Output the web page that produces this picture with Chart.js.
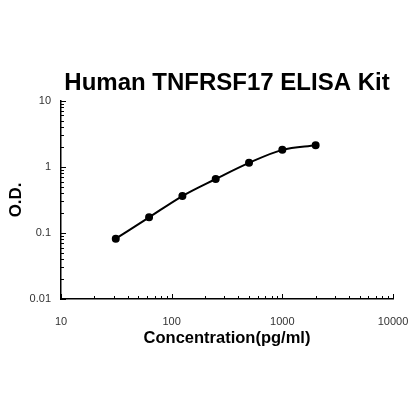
<!DOCTYPE html>
<html>
<head>
<meta charset="utf-8">
<script src="https://cdn.jsdelivr.net/npm/chart.js@4/dist/chart.umd.min.js"></script>
<style>
  html, body { margin: 0; padding: 0; background: #fff; }
  #wrap { width: 420px; height: 420px; }
</style>
</head>
<body>
<div id="wrap"><canvas id="elisaChart" width="420" height="420"></canvas></div>
<script>
// Curva estándar ELISA (log-log)
const concentrations = [31.25, 62.5, 125, 250, 500, 1000, 2000];
const odValues = [0.082, 0.172, 0.362, 0.655, 1.15, 1.81, 2.13];
const xTickValues = [10, 100, 1000, 10000];
const yTickValues = [0.01, 0.1, 1, 10];

// ticks menores hacia adentro, como en el original
const innerTicks = {
  id: "innerTicks",
  afterDraw(chart) {
    const ctx = chart.ctx;
    const xs = chart.scales.x, ys = chart.scales.y;
    ctx.save();
    ctx.strokeStyle = "#000";
    ctx.lineWidth = 1;
    for (let e = Math.log10(xs.min); e < Math.log10(xs.max) + 0.5; e++) {
      for (let k = 1; k <= 9; k++) {
        const v = k * Math.pow(10, e);
        if (v < xs.min || v > xs.max) continue;
        const px = Math.round(xs.getPixelForValue(v)) + 0.5;
        const len = k === 1 ? 5 : 3;
        ctx.beginPath();
        ctx.moveTo(px, xs.top);
        ctx.lineTo(px, xs.top - len);
        ctx.stroke();
      }
    }
    for (let e = Math.round(Math.log10(ys.min)); e < Math.log10(ys.max) + 0.5; e++) {
      for (let k = 1; k <= 9; k++) {
        const v = k * Math.pow(10, e);
        if (v < ys.min * 0.999 || v > ys.max * 1.001) continue;
        const py = Math.round(ys.getPixelForValue(v)) + 0.5;
        const len = k === 1 ? 5 : 3;
        ctx.beginPath();
        ctx.moveTo(ys.right, py);
        ctx.lineTo(ys.right + len, py);
        ctx.stroke();
      }
    }
    ctx.restore();
  }
};

const ctx = document.getElementById("elisaChart").getContext("2d");
const elisaChart = new Chart(ctx, {
  type: "line",
  data: {
    labels: concentrations,
    datasets: [{
      data: concentrations.map((c, i) => ({ x: c, y: odValues[i] })),
      borderColor: "#000",
      backgroundColor: "#000",
      borderWidth: 2,
      pointRadius: 3,
      pointBackgroundColor: "#000",
      cubicInterpolationMode: "monotone",
      fill: false
    }]
  },
  options: {
    responsive: false,
    animation: false,
    devicePixelRatio: 1,
    layout: { padding: { left: 0, right: 27, top: 0, bottom: 0 } },
    plugins: {
      legend: { display: false },
      tooltip: { enabled: false },
      title: {
        display: true,
        text: "Human TNFRSF17 ELISA Kit",
        color: "#000",
        fullSize: false,
        font: { family: "Liberation Sans, Arial, sans-serif", size: 24, weight: "bold" },
        padding: { top: 69, bottom: 3 }
      }
    },
    scales: {
      x: {
        type: "logarithmic",
        min: 10,
        max: 10000,
        afterBuildTicks: s => { s.ticks = xTickValues.map(v => ({ value: v })); },
        afterFit: s => { s.height = 121; s.paddingRight = 0; s.paddingLeft = 0; },
        ticks: {
          callback: v => String(v),
          color: "#333",
          padding: 16,
          maxRotation: 0,
          font: { family: "Liberation Sans, Arial, sans-serif", size: 11 }
        },
        grid: { display: false, drawTicks: false },
        border: { display: true, color: "#000", width: 1.5 },
        title: {
          display: true,
          text: "Concentration(pg/ml)",
          color: "#000",
          font: { family: "Liberation Sans, Arial, sans-serif", size: 16.5, weight: "bold" },
          padding: { top: 0, bottom: 72 }
        }
      },
      y: {
        type: "logarithmic",
        min: 0.01,
        max: 10,
        afterBuildTicks: s => { s.ticks = yTickValues.map(v => ({ value: v })); },
        afterFit: s => { s.width = 61; },
        ticks: {
          callback: v => String(v),
          color: "#333",
          padding: 10,
          font: { family: "Liberation Sans, Arial, sans-serif", size: 11 }
        },
        grid: { display: false, drawTicks: false },
        border: { display: true, color: "#000", width: 1.5 },
        title: {
          display: true,
          text: "O.D.",
          color: "#000",
          font: { family: "Liberation Sans, Arial, sans-serif", size: 17, weight: "bold" },
          padding: { top: 6, bottom: 3 }
        }
      }
    }
  },
  plugins: [innerTicks]
});
</script>
</body>
</html>
